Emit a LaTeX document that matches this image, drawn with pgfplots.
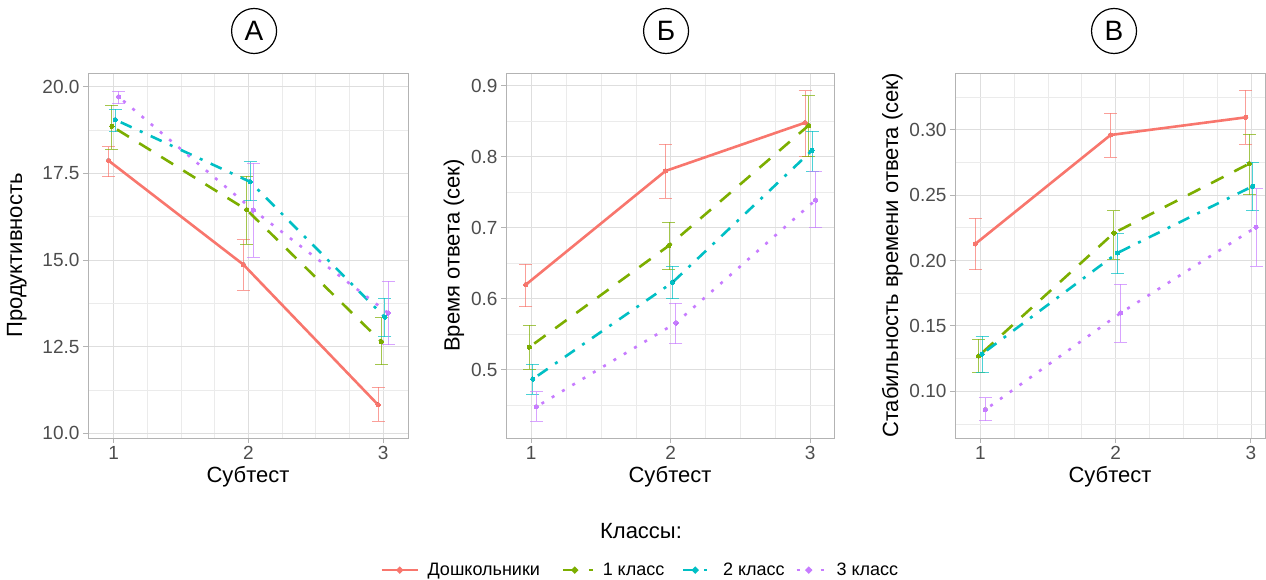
\documentclass[border=0pt]{standalone}
\usepackage{pgfplots}
\pgfplotsset{compat=1.18}
\usepackage{fontspec}
\setmainfont{Liberation Sans}
\definecolor{cA}{HTML}{F8766D}
\definecolor{cB}{HTML}{7CAE00}
\definecolor{cC}{HTML}{00BFC4}
\definecolor{cD}{HTML}{C77CFF}
\definecolor{tickgray}{HTML}{4D4D4D}
\definecolor{bordergray}{HTML}{B3B3B3}
\definecolor{gridmaj}{HTML}{DEDEDE}
\definecolor{gridmin}{HTML}{EBEBEB}
\pgfplotsset{
  panel/.style={
    scale only axis, height=365pt, anchor=south west,
    axis line style={draw=bordergray, line width=0.9pt},
    grid=both,
    major grid style={draw=gridmaj, line width=0.8pt},
    minor grid style={draw=gridmin, line width=0.6pt},
    tick align=outside, tick pos=left,
    major tick length=5pt, minor tick length=0pt,
    tick style={draw=bordergray, line width=0.9pt},
    xtick={1,2,3},
    minor xtick={1.25,1.5,1.75,2.25,2.5,2.75},
    ticklabel style={font=\fontsize{19}{19}\selectfont, text=tickgray},
    /pgf/number format/assume math mode=true,
    label style={font=\fontsize{22}{22}\selectfont, text=black},
    xlabel={Субтест},
    title style={draw=black, circle, line width=1.2pt, minimum size=45pt, inner sep=0pt,
      font=\fontsize{28}{28}\selectfont, anchor=center, yshift=36pt},
    clip=false,
  },
  ebar/.style={only marks, mark=none, forget plot,
    error bars/.cd, y dir=both, y explicit, error mark=-,
    error bar style={draw=#1, line width=0.9pt, opacity=0.7},
    error mark options={draw=#1, line width=0.9pt, mark size=6.5pt, rotate=90, opacity=0.7}},
  pts/.style={only marks, forget plot, mark=*, mark size=2.1pt, color=#1, mark options={solid, draw=#1, fill=#1, line width=0pt}},
  ser/.style={color=#1, line width=2.6pt, no marks},
  s1/.style={ser=cA, solid},
  s2/.style={ser=cB, dash pattern=on 14pt off 12pt, dash phase=20pt},
  s3/.style={ser=cC, dash pattern=on 3pt off 9pt on 12pt off 9pt, dash phase=6pt},
  s4/.style={ser=cD, dash pattern=on 3pt off 9pt, dash phase=6pt},
}
\begin{document}
\begin{tikzpicture}
\path[use as bounding box] (0pt,0pt) rectangle (1266pt,579pt);

% ---------------- Panel A ----------------
\begin{axis}[panel, at={(88pt,141pt)}, width=320pt,
  xmin=0.81, xmax=3.185, ymin=9.86, ymax=20.4,
  ytick={10,12.5,15,17.5,20}, minor ytick={11.25,13.75,16.25,18.75},
  yticklabel style={/pgf/number format/.cd, fixed, fixed zerofill, precision=1},
  ylabel={Продуктивность}, ylabel style={yshift=9pt},
  title={А}, title style={at={(0.519,1)}}]
\addplot[ebar=cA] table[x=x,y=y,y error plus=ep,y error minus=em]{
x y ep em
0.9625 17.87 0.40 0.47
1.9625 14.87 0.72 0.75
2.9625 10.82 0.51 0.48
};
\addplot[ebar=cB] table[x=x,y=y,y error plus=ep,y error minus=em]{
x y ep em
0.9875 18.86 0.61 0.66
1.9875 16.45 0.97 0.99
2.9875 12.64 0.69 0.66
};
\addplot[ebar=cC] table[x=x,y=y,y error plus=ep,y error minus=em]{
x y ep em
1.0125 19.05 0.31 0.35
2.0125 17.26 0.58 0.55
3.0125 13.35 0.54 0.57
};
\addplot[ebar=cD] table[x=x,y=y,y error plus=ep,y error minus=em]{
x y ep em
1.0375 19.71 0.17 0.20
2.0375 16.44 1.36 1.36
3.0375 13.47 0.91 0.92
};
\addplot[s1] table{
0.9625 17.87
1.9625 14.87
2.9625 10.82
};
\addplot[s2] table{
0.9875 18.86
1.9875 16.45
2.9875 12.64
};
\addplot[s3] table{
1.0125 19.05
2.0125 17.26
3.0125 13.35
};
\addplot[s4] table{
1.0375 19.71
2.0375 16.44
3.0375 13.47
};
\addplot[pts=cA] table{
0.9625 17.87
1.9625 14.87
2.9625 10.82
};
\addplot[pts=cB] table{
0.9875 18.86
1.9875 16.45
2.9875 12.64
};
\addplot[pts=cC] table{
1.0125 19.05
2.0125 17.26
3.0125 13.35
};
\addplot[pts=cD] table{
1.0375 19.71
2.0375 16.44
3.0375 13.47
};
\end{axis}

% ---------------- Panel B ----------------
\begin{axis}[panel, at={(506pt,141pt)}, width=328pt,
  xmin=0.82, xmax=3.17, ymin=0.404, ymax=0.918,
  ytick={0.5,0.6,0.7,0.8,0.9}, minor ytick={0.45,0.55,0.65,0.75,0.85},
  yticklabel style={/pgf/number format/.cd, fixed, fixed zerofill, precision=1},
  ylabel={Время ответа (сек)},
  title={Б}, title style={at={(0.488,1)}},
  legend columns=4,
  legend style={at={(0.41,-0.362)}, anchor=center, draw=none, fill=none,
    font=\fontsize{18}{18}\selectfont, text=black,
    /tikz/every odd column/.append style={column sep=7pt},
    /tikz/every even column/.append style={column sep=0pt}},
  legend cell align=left,
  legend image code/.code={\draw[line width=1.8pt] (0pt,0pt) -- (36pt,0pt);
    \fill[solid] (18pt,0pt) circle (1.9pt);}]
\addplot[ebar=cA] table[x=x,y=y,y error plus=ep,y error minus=em]{
x y ep em
0.9625 0.620 0.029 0.031
1.9625 0.780 0.038 0.038
2.9625 0.848 0.045 0.048
};
\addplot[ebar=cB] table[x=x,y=y,y error plus=ep,y error minus=em]{
x y ep em
0.9875 0.532 0.031 0.031
1.9875 0.675 0.033 0.034
2.9875 0.844 0.042 0.044
};
\addplot[ebar=cC] table[x=x,y=y,y error plus=ep,y error minus=em]{
x y ep em
1.0125 0.487 0.021 0.021
2.0125 0.623 0.023 0.023
3.0125 0.809 0.027 0.030
};
\addplot[ebar=cD] table[x=x,y=y,y error plus=ep,y error minus=em]{
x y ep em
1.0375 0.448 0.021 0.020
2.0375 0.566 0.028 0.029
3.0375 0.739 0.040 0.039
};
\addplot[s1] table{
0.9625 0.620
1.9625 0.780
2.9625 0.848
};
\addlegendentry{Дошкольники\rule{14pt}{0pt}}
\addplot[s2] table{
0.9875 0.532
1.9875 0.675
2.9875 0.844
};
\addlegendentry{1 класс\rule{10pt}{0pt}}
\addplot[s3] table{
1.0125 0.487
2.0125 0.623
3.0125 0.809
};
\addlegendentry{2 класс\rule{3pt}{0pt}}
\addplot[s4] table{
1.0375 0.448
2.0375 0.566
3.0375 0.739
};
\addlegendentry{3 класс}
\addplot[pts=cA] table{
0.9625 0.620
1.9625 0.780
2.9625 0.848
};
\addplot[pts=cB] table{
0.9875 0.532
1.9875 0.675
2.9875 0.844
};
\addplot[pts=cC] table{
1.0125 0.487
2.0125 0.623
3.0125 0.809
};
\addplot[pts=cD] table{
1.0375 0.448
2.0375 0.566
3.0375 0.739
};
\end{axis}

% ---------------- Panel C ----------------
\begin{axis}[panel, at={(955pt,141pt)}, width=310pt,
  xmin=0.813, xmax=3.104, ymin=0.0643, ymax=0.3433,
  ytick={0.10,0.15,0.20,0.25,0.30}, minor ytick={0.075,0.125,0.175,0.225,0.275,0.325},
  yticklabel style={/pgf/number format/.cd, fixed, fixed zerofill, precision=2},
  ylabel={Стабильность времени ответа (сек)},
  title={В}, title style={at={(0.513,1)}}]
\addplot[ebar=cA] table[x=x,y=y,y error plus=ep,y error minus=em]{
x y ep em
0.9625 0.2126 0.0196 0.0196
1.9625 0.2959 0.0168 0.0170
2.9625 0.3094 0.0209 0.0204
};
\addplot[ebar=cB] table[x=x,y=y,y error plus=ep,y error minus=em]{
x y ep em
0.9875 0.1270 0.0127 0.0125
1.9875 0.2210 0.0171 0.0199
2.9875 0.2740 0.0224 0.0239
};
\addplot[ebar=cC] table[x=x,y=y,y error plus=ep,y error minus=em]{
x y ep em
1.0125 0.1285 0.0138 0.0140
2.0125 0.2057 0.0153 0.0160
3.0125 0.2567 0.0183 0.0186
};
\addplot[ebar=cD] table[x=x,y=y,y error plus=ep,y error minus=em]{
x y ep em
1.0375 0.0860 0.0092 0.0084
2.0375 0.1599 0.0219 0.0224
3.0375 0.2254 0.0293 0.0296
};
\addplot[s1] table{
0.9625 0.2126
1.9625 0.2959
2.9625 0.3094
};
\addplot[s2] table{
0.9875 0.1270
1.9875 0.2210
2.9875 0.2740
};
\addplot[s3] table{
1.0125 0.1285
2.0125 0.2057
3.0125 0.2567
};
\addplot[s4] table{
1.0375 0.0860
2.0375 0.1599
3.0375 0.2254
};
\addplot[pts=cA] table{
0.9625 0.2126
1.9625 0.2959
2.9625 0.3094
};
\addplot[pts=cB] table{
0.9875 0.1270
1.9875 0.2210
2.9875 0.2740
};
\addplot[pts=cC] table{
1.0125 0.1285
2.0125 0.2057
3.0125 0.2567
};
\addplot[pts=cD] table{
1.0375 0.0860
2.0375 0.1599
3.0375 0.2254
};
\end{axis}

\node[font=\fontsize{22}{22}\selectfont] at (641pt,48pt) {Классы:};
\end{tikzpicture}
\end{document}
